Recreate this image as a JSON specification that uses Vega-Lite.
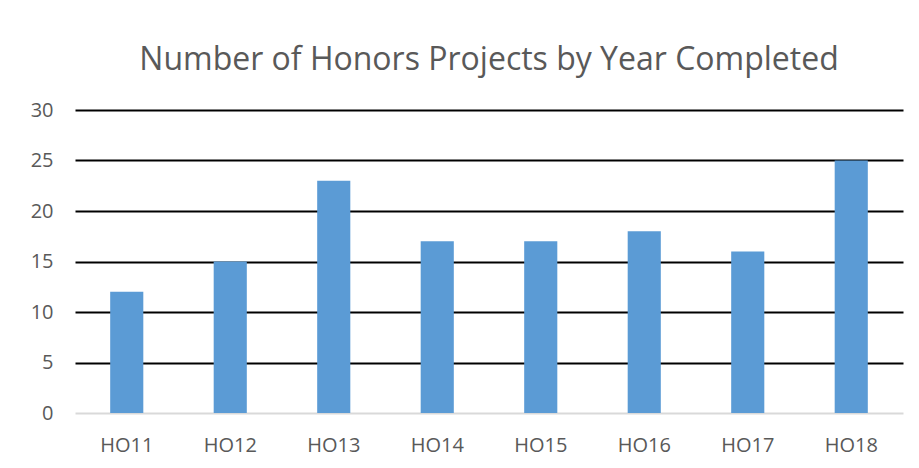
{
  "$schema": "https://vega.github.io/schema/vega-lite/v6.json",
  "width": 828,
  "height": 303,
  "autosize": "none",
  "padding": {"left": 75, "top": 110, "right": 16, "bottom": 55},
  "background": "white",
  "title": {
    "text": "Number of Honors Projects by Year Completed",
    "font": "Open Sans",
    "fontSize": 32,
    "fontWeight": "normal",
    "color": "#595959",
    "anchor": "middle",
    "baseline": "alphabetic",
    "offset": -2
  },
  "data": {
    "values": [
      {"year": "HO11", "count": 12},
      {"year": "HO12", "count": 15},
      {"year": "HO13", "count": 23},
      {"year": "HO14", "count": 17},
      {"year": "HO15", "count": 17},
      {"year": "HO16", "count": 18},
      {"year": "HO17", "count": 16},
      {"year": "HO18", "count": 25}
    ]
  },
  "mark": {"type": "bar", "color": "#5B9BD5"},
  "encoding": {
    "x": {
      "field": "year",
      "type": "nominal",
      "sort": null,
      "scale": {"paddingInner": 0.68, "paddingOuter": 0.34},
      "axis": {
        "title": null,
        "labelAngle": 0,
        "labelFont": "Open Sans",
        "labelFontSize": 20,
        "labelColor": "#595959",
        "ticks": false,
        "domain": false,
        "labelPadding": 38,
        "labelBaseline": "alphabetic"
      }
    },
    "y": {
      "field": "count",
      "type": "quantitative",
      "scale": {"domain": [0, 30]},
      "axis": {
        "title": null,
        "values": [0, 5, 10, 15, 20, 25, 30],
        "labelFont": "Open Sans",
        "labelFontSize": 20,
        "labelColor": "#595959",
        "ticks": false,
        "domain": false,
        "labelPadding": 22,
        "gridColor": {"condition": {"test": "datum.value === 0", "value": "#d9d9d9"}, "value": "#000000"},
        "gridWidth": 2
      }
    }
  },
  "config": {"view": {"stroke": null}}
}
